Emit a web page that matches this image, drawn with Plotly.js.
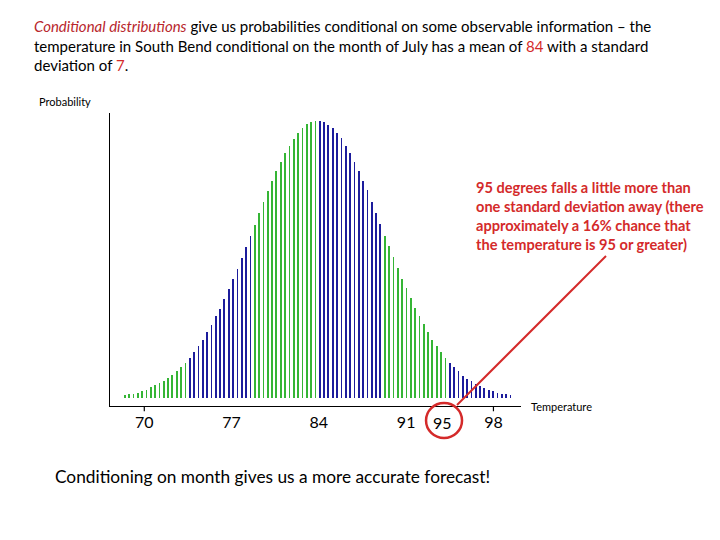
<!DOCTYPE html>
<html>
<head>
<meta charset="utf-8">
<script src="https://cdn.plot.ly/plotly-3.0.1.min.js"></script>
<style>html,body{margin:0;padding:0;background:#fff;}#chart{width:720px;height:540px;}</style>
</head>
<body>
<div id="chart"></div>
<script>
// Temperature (°F) of each bar
const temperatures = [
  68.43, 68.78, 69.13, 69.47, 69.82, 70.17, 70.52, 70.86, 71.21, 71.56,
  71.91, 72.25, 72.60, 72.95, 73.30, 73.64, 73.99, 74.34, 74.69, 75.03,
  75.38, 75.73, 76.08, 76.42, 76.77, 77.12, 77.47, 77.81, 78.16, 78.51,
  78.86, 79.20, 79.55, 79.90, 80.25, 80.59, 80.94, 81.29, 81.64, 81.98,
  82.33, 82.68, 83.03, 83.37, 83.72, 84.07, 84.42, 84.76, 85.11, 85.46,
  85.81, 86.15, 86.50, 86.85, 87.20, 87.54, 87.89, 88.24, 88.59, 88.93,
  89.28, 89.63, 89.98, 90.32, 90.67, 91.02, 91.37, 91.71, 92.06, 92.41,
  92.76, 93.10, 93.45, 93.80, 94.15, 94.49, 94.84, 95.19, 95.54, 95.88,
  96.23, 96.58, 96.93, 97.27, 97.62, 97.97, 98.32, 98.66, 99.01, 99.36
];
// Probability density (per mille) of each bar
const probability = [
  0.68, 0.82, 0.89, 1.09, 1.50, 1.71, 2.20, 2.62, 3.03, 3.44,
  4.06, 4.68, 5.50, 6.32, 7.21, 8.24, 9.41, 10.65, 12.01, 13.53,
  15.10, 16.83, 18.40, 20.46, 22.52, 24.58, 26.64, 28.84, 31.11, 33.43,
  35.70, 38.11, 40.38, 42.64, 44.76, 46.82, 48.62, 50.47, 51.97, 53.50,
  54.73, 55.76, 56.51, 57.00, 57.12, 57.12, 57.00, 56.30, 55.76, 54.73,
  53.56, 52.06, 50.61, 48.76, 46.91, 44.85, 42.79, 40.52, 38.25, 35.78,
  33.43, 31.25, 28.98, 26.78, 24.58, 22.66, 20.60, 18.54, 16.83, 15.24,
  13.53, 12.01, 10.65, 9.41, 8.24, 7.21, 6.32, 5.50, 4.59, 3.98,
  3.44, 2.88, 2.41, 2.06, 1.71, 1.38, 1.03, 0.89, 0.82, 0.68
];
const tickValues = [70, 77, 84, 91, 98];
const tickLabels = ['70', '77', '84', '91', '98'];
const markedTemperature = 95;
const meanTemp = 84;
const sdTemp = 7;

const GREEN = '#35b535';
const BLUE = '#1c1c9c';
const RED = '#d42a2a';
const DARKRED = '#b8262c';
const barColors = temperatures.map((t, i) => (Math.floor(i / 15) % 2 === 0 ? GREEN : BLUE));

const trace = {
  type: 'bar',
  x: temperatures,
  y: probability,
  width: 0.14,
  marker: {color: barColors, line: {width: 0}},
  hoverinfo: 'x+y'
};

const F = 'Lato, "Open Sans", sans-serif';

const layout = {
  width: 720, height: 540,
  margin: {l: 110, r: 199, t: 113, b: 134},
  paper_bgcolor: '#fff', plot_bgcolor: '#fff',
  showlegend: false,
  bargap: 0,
  font: {family: F, color: '#000'},
  xaxis: {
    range: [67.25, 100.21],
    showgrid: false, zeroline: false,
    showline: true, linecolor: '#000', linewidth: 1.3,
    ticks: '', tickvals: tickValues, ticktext: tickLabels,
    tickfont: {family: F, size: 16, color: '#000'},
    ticklabelstandoff: 1
  },
  yaxis: {
    range: [-1.65, 58.77],
    showgrid: false, zeroline: false,
    showline: true, linecolor: '#000', linewidth: 1.3,
    showticklabels: false, ticks: ''
  },
  shapes: [
    {type: 'line', xref: 'x', yref: 'paper', x0: 70, x1: 70, y0: 0, y1: -0.018, line: {color: '#000', width: 1.2}},
    {type: 'line', xref: 'x', yref: 'paper', x0: 98, x1: 98, y0: 0, y1: -0.018, line: {color: '#000', width: 1.2}},
    {type: 'circle', xref: 'x', yref: 'paper', xsizemode: 'pixel', ysizemode: 'pixel',
     xanchor: markedTemperature, yanchor: 0, x0: -30, x1: 6, y0: -32, y1: 3,
     line: {color: RED, width: 2.5}},
    {type: 'line', xref: 'paper', yref: 'paper', xsizemode: 'pixel', ysizemode: 'pixel',
     xanchor: 0.8443, yanchor: 0, x0: 0, x1: 149, y0: 1, y1: 150,
     line: {color: RED, width: 2}}
  ],
  annotations: [
    {xref: 'paper', yref: 'paper', x: -0.19, y: 1.232, xanchor: 'left', yanchor: 'middle', align: 'left',
     showarrow: false, font: {family: F, size: 15, color: '#000'},
     text: '<span style="color:' + DARKRED + '"><i>Conditional distributions</i></span> give us probabilities conditional on some observable information \u2013 the<br>' +
           'temperature in South Bend conditional on the month of July has a mean of <span style="color:' + RED + '">' + meanTemp + '</span> with a standard<br>' +
           'deviation of <span style="color:' + RED + '">' + sdTemp + '</span>.'},
    {xref: 'paper', yref: 'paper', x: -0.178, y: 1.04, xanchor: 'left', yanchor: 'middle',
     showarrow: false, font: {family: F, size: 11, color: '#000'}, text: 'Probability'},
    {xref: 'paper', yref: 'paper', x: 1.02, y: 0.0, xanchor: 'left', yanchor: 'middle',
     showarrow: false, font: {family: F, size: 11, color: '#000'}, text: 'Temperature'},
    {xref: 'x', yref: 'paper', x: markedTemperature, y: 0, xshift: -14, yshift: -16, xanchor: 'center', yanchor: 'middle',
     showarrow: false, font: {family: F, size: 16, color: '#000'}, text: String(markedTemperature)},
    {xref: 'paper', yref: 'paper', x: 0.886, y: 0.647, xanchor: 'left', yanchor: 'middle', align: 'left',
     showarrow: false, font: {family: F, size: 14.6, color: RED, weight: 'bold'},
     text: '<b>95 degrees falls a little more than<br>one standard deviation away (there<br>approximately a 16% chance that<br>the temperature is 95 or greater)</b>'},
    {xref: 'paper', yref: 'paper', x: -0.139, y: -0.239, xanchor: 'left', yanchor: 'middle',
     showarrow: false, font: {family: F, size: 17.3, color: '#000'},
     text: 'Conditioning on month gives us a more accurate forecast!'}
  ]
};

Plotly.newPlot('chart', [trace], layout, {displayModeBar: false, staticPlot: true});
</script>
</body>
</html>
